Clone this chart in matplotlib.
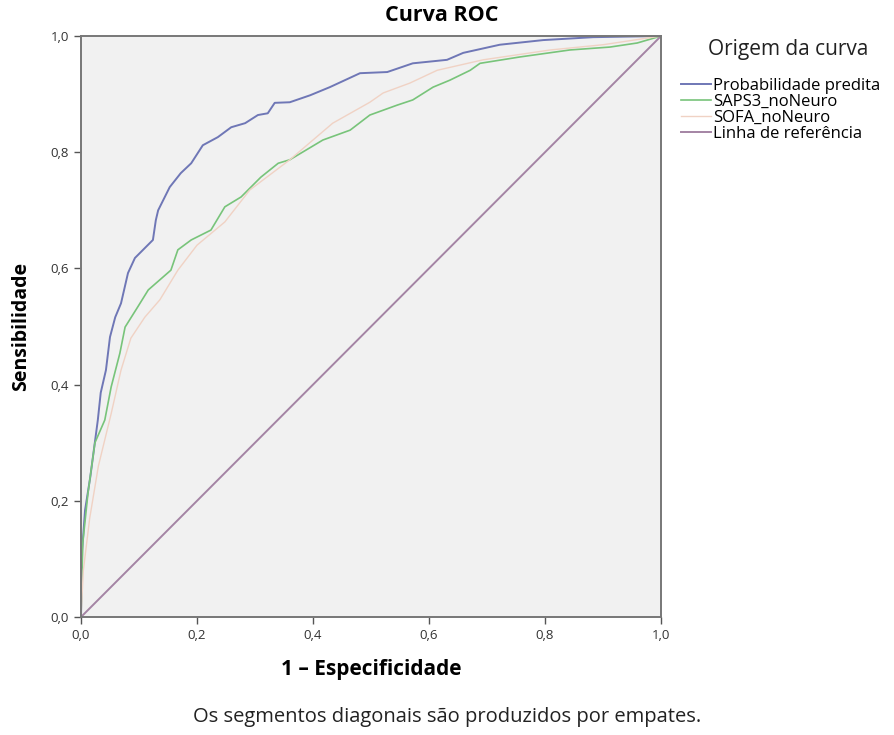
import matplotlib
matplotlib.use("Agg")
import matplotlib.pyplot as plt
from matplotlib.ticker import FuncFormatter

plt.rcParams['font.family'] = ['Open Sans', 'DejaVu Sans']

# Probabilidade predita
prob_x = [0, 0.002, 0.007, 0.016, 0.029, 0.034, 0.043, 0.05, 0.059, 0.069, 0.081, 0.093,
          0.124, 0.129, 0.133, 0.153, 0.172, 0.19, 0.21, 0.236, 0.259, 0.283, 0.305, 0.322,
          0.334, 0.36, 0.395, 0.429, 0.481, 0.528, 0.572, 0.631, 0.659, 0.722, 0.797, 0.883, 1]
prob_y = [0, 0.115, 0.184, 0.241, 0.339, 0.386, 0.425, 0.482, 0.516, 0.54, 0.592, 0.618,
          0.649, 0.683, 0.70, 0.74, 0.764, 0.781, 0.812, 0.826, 0.843, 0.85, 0.864, 0.867,
          0.885, 0.886, 0.898, 0.912, 0.936, 0.938, 0.953, 0.959, 0.971, 0.985, 0.993, 0.998, 1]

# SAPS3_noNeuro
saps_x = [0, 0.003, 0.012, 0.024, 0.041, 0.052, 0.067, 0.076, 0.098, 0.116, 0.155, 0.167,
          0.19, 0.224, 0.248, 0.276, 0.31, 0.34, 0.36, 0.417, 0.464, 0.498, 0.545, 0.572,
          0.607, 0.636, 0.671, 0.688, 0.757, 0.843, 0.912, 0.959, 1]
saps_y = [0, 0.127, 0.213, 0.30, 0.339, 0.396, 0.454, 0.499, 0.534, 0.563, 0.597, 0.632,
          0.649, 0.666, 0.706, 0.723, 0.757, 0.781, 0.787, 0.821, 0.838, 0.864, 0.881, 0.89,
          0.912, 0.924, 0.941, 0.953, 0.964, 0.976, 0.981, 0.988, 1]

# SOFA_noNeuro
sofa_x = [0, 0.004, 0.015, 0.03, 0.052, 0.069, 0.086, 0.11, 0.136, 0.167, 0.2, 0.248,
          0.291, 0.36, 0.434, 0.498, 0.521, 0.567, 0.614, 0.693, 0.809, 0.9, 1]
sofa_y = [0, 0.08, 0.17, 0.26, 0.35, 0.425, 0.48, 0.516, 0.546, 0.597, 0.64, 0.68,
          0.735, 0.787, 0.85, 0.886, 0.902, 0.919, 0.941, 0.959, 0.976, 0.985, 1]

ref_x = [0, 1]
ref_y = [0, 1]

series_labels = ["Probabilidade predita", "SAPS3_noNeuro", "SOFA_noNeuro", "Linha de referência"]
ticks = [0, 0.2, 0.4, 0.6, 0.8, 1.0]

fig = plt.figure(figsize=(8.94, 7.35), dpi=100)
ax = fig.add_axes([0.0906, 0.1605, 0.6488, 0.7905])
ax.set_facecolor("#f1f1f1")

ax.plot(prob_x, prob_y, color="#6f77b6", lw=1.4, label=series_labels[0])
ax.plot(saps_x, saps_y, color="#78c47a", lw=1.2, label=series_labels[1])
ax.plot(sofa_x, sofa_y, color="#f0d2c4", lw=1.0, label=series_labels[2])
ax.plot(ref_x, ref_y, color="#a484a4", lw=1.4, label=series_labels[3])

ax.set_xlim(0, 1)
ax.set_ylim(0, 1)
ax.set_xticks(ticks)
ax.set_yticks(ticks)
fmt = FuncFormatter(lambda v, p: f"{v:.1f}".replace(".", ","))
ax.xaxis.set_major_formatter(fmt)
ax.yaxis.set_major_formatter(fmt)
ax.tick_params(direction="out", length=5, width=1, color="#555555", labelsize=9.5, labelcolor="#333333")
for s in ax.spines.values():
    s.set_color("#777777")
    s.set_linewidth(1.4)

ax.set_xlabel("1 – Especificidade", fontsize=15, fontweight="bold", labelpad=12)
ax.set_ylabel("Sensibilidade", fontsize=14, fontweight="bold", labelpad=14)
fig.text(0.494, 0.979, "Curva ROC", ha="center", va="center", fontsize=15.5, fontweight="bold")
fig.text(0.5, 0.025, "Os segmentos diagonais são produzidos por empates.", ha="center",
         va="center", fontsize=14.5, color="#222222")

fig.text(0.882, 0.932, "Origem da curva", ha="center", va="center", fontsize=15, color="#222222")
leg = ax.legend(loc="upper left", bbox_to_anchor=(0.762, 0.894), bbox_transform=fig.transFigure,
                frameon=False, fontsize=12, handlelength=1.8, handletextpad=0.1,
                labelspacing=0.0, borderaxespad=0, borderpad=0)

fig.savefig("out.png", dpi=100)
